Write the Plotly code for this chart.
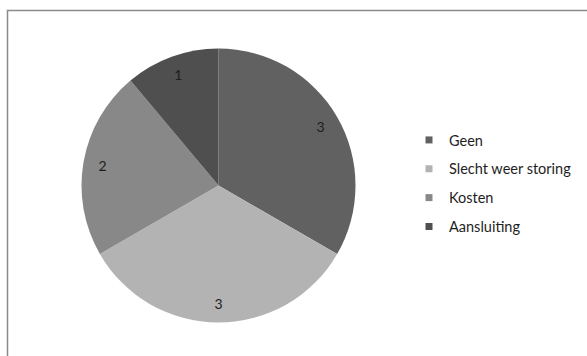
import plotly.graph_objects as go

categories = ["Geen", "Slecht weer storing", "Kosten", "Aansluiting"]
values = [3, 3, 2, 1]
colors = ["#616161", "#b3b3b3", "#888888", "#4f4f4f"]

W, H = 587, 356
cx, cy, r = 218.5, 185.5, 137
dom = dict(x=[(cx - r) / W, (cx + r) / W], y=[(H - cy - r) / H, (H - cy + r) / H])

fig = go.Figure()
fig.add_trace(go.Pie(
    labels=categories, values=values, sort=False, direction="clockwise", rotation=0,
    marker=dict(colors=colors, line=dict(width=0)),
    textinfo="none", showlegend=False, hoverinfo="label+value", domain=dom,
))
# transparent ring used only to place the value labels near the rim
fig.add_trace(go.Pie(
    labels=categories, values=values, sort=False, direction="clockwise", rotation=0,
    hole=0.72, marker=dict(colors=["rgba(0,0,0,0)"] * len(values), line=dict(width=0)),
    textinfo="value", textposition="inside", insidetextorientation="horizontal",
    textfont=dict(family="Lato", size=14, color="#1e1e1e"),
    showlegend=False, hoverinfo="skip", domain=dom,
))
for cat, col in zip(categories, colors):
    fig.add_trace(go.Scatter(
        x=[None], y=[None], mode="markers", name=cat, legendgroup=cat,
        marker=dict(symbol="square", size=7, color=col),
    ))

fig.update_layout(
    width=W, height=H, margin=dict(l=0, r=0, t=0, b=0, autoexpand=False),
    paper_bgcolor="white", plot_bgcolor="white",
    xaxis=dict(visible=False), yaxis=dict(visible=False),
    legend=dict(x=409 / W, y=(H - 124) / H, xanchor="left", yanchor="top",
                font=dict(family="Lato", size=14.5, color="#1e1e1e"),
                tracegroupgap=7, itemwidth=30, traceorder="grouped"),
    shapes=[dict(type="rect", xref="paper", yref="paper",
                 x0=7.5 / W, x1=1.05, y0=-0.05, y1=(H - 10.5) / H,
                 line=dict(color="#8a8a8a", width=1.5), fillcolor="rgba(0,0,0,0)", layer="above")],
)
fig.write_html("out.html", config={"displayModeBar": False},
               post_script="document.body.style.margin='0';")
